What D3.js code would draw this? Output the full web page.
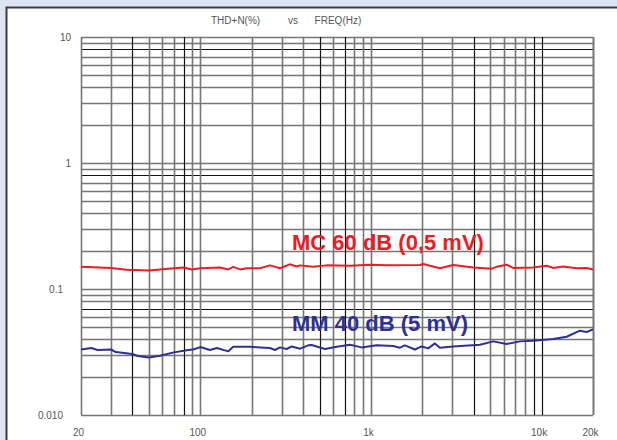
<!DOCTYPE html>
<html>
<head>
<meta charset="utf-8">
<script src="https://cdn.jsdelivr.net/npm/d3@7"></script>
<style>
  body { margin: 0; background: #dce6f2; }
  svg { display: block; }
  .tick text { font-family: "Liberation Sans Narrow", "Liberation Sans", sans-serif; font-size: 10px; fill: #555; }
</style>
</head>
<body>
<svg id="chart"></svg>
<script>
// THD+N vs frequency, two phono stage gains
const mcFreq = [20, 30, 37, 50, 70, 80, 89, 100, 130, 146, 156, 171, 187, 224, 256, 293, 335, 367, 384, 459,
  550, 753, 1000, 1235, 1936, 2025, 2536, 3034, 3974, 5094, 5448, 6236, 6817, 8928, 10698, 11696, 13380, 16032, 18352, 20000];
const mcThd = [0.150, 0.147, 0.142, 0.140, 0.146, 0.148, 0.143, 0.146, 0.148, 0.143, 0.150, 0.143, 0.146, 0.146, 0.154, 0.146, 0.157, 0.151, 0.154, 0.150,
  0.154, 0.153, 0.156, 0.154, 0.155, 0.158, 0.146, 0.155, 0.148, 0.145, 0.150, 0.156, 0.147, 0.148, 0.153, 0.147, 0.151, 0.146, 0.147, 0.143];

const mmFreq = [20, 23, 25, 30, 32, 40, 43, 50, 58, 70, 80, 85, 91, 100, 114, 125, 146, 156, 195, 224, 256, 274, 293, 321, 343, 384, 429, 449,
  538, 630, 753, 882, 1080, 1351, 1478, 1581, 1810, 1981, 2166, 2370, 2536, 3034, 4350, 5206, 6236, 7462, 8928, 11696, 14012, 16760, 18352, 20000];
const mmThd = [0.0331, 0.0340, 0.0328, 0.0331, 0.0316, 0.0305, 0.0294, 0.0286, 0.0295, 0.0314, 0.0324, 0.0328, 0.0331, 0.0346, 0.0328, 0.0340, 0.0320, 0.0348, 0.0348, 0.0344, 0.0340, 0.0328, 0.0344, 0.0334, 0.0350, 0.0336, 0.0357, 0.0359,
  0.0334, 0.0348, 0.0361, 0.0344, 0.0357, 0.0353, 0.0342, 0.0357, 0.0331, 0.0350, 0.0338, 0.0370, 0.0342, 0.0350, 0.0361, 0.0384, 0.0366, 0.0384, 0.0389, 0.0401, 0.0418, 0.0467, 0.0456, 0.0478];

const xTickValues = [20, 100, 1000, 10000, 20000];
const xTickLabels = ["20", "100", "1k", "10k", "20k"];
const yTickValues = [10, 1, 0.1, 0.01];
const yTickLabels = ["10", "1", "0.1", "0.010"];

const seriesNames = ["MC 60 dB (0,5 mV)", "MM 40 dB (5 mV)"];

const W = 617, H = 440;
const plot = { left: 81, right: 593, top: 37, bottom: 415 };

const svg = d3.select("#chart").attr("width", W).attr("height", H);

// white panel with dark edge on top/left
svg.append("rect").attr("x", 6).attr("y", 7).attr("width", W).attr("height", H)
  .attr("fill", "#fff");
svg.append("path").attr("d", `M6.5,${H} V7.5 H${W}`)
  .attr("fill", "none").attr("stroke", "#3a3a48").attr("stroke-width", 2);

const x = d3.scaleLog().domain([20, 20000]).range([plot.left, plot.right]);
const y = d3.scaleLog().domain([0.01, 10]).range([plot.bottom, plot.top]);

// grid values
let vGrid = [];
[10, 100, 1000, 10000].forEach(d => {
  for (let m = 1; m <= 9; m++) {
    const f = d * m;
    if (f >= 20 && f <= 20000) vGrid.push(f);
  }
});
vGrid.push(20000);
let hGrid = [];
[0.01, 0.1, 1].forEach(d => {
  for (let m = 1; m <= 9; m++) hGrid.push(+(d * m).toPrecision(3));
});
hGrid.push(10);

const blackV = [40, 80, 500, 700, 4000, 9000, 10000];
const blackH = [8, 0.8, 0.07];

const grid = svg.append("g");
grid.selectAll("line.h").data(hGrid).enter().append("line")
  .attr("x1", plot.left).attr("x2", plot.right)
  .attr("y1", d => Math.round(y(d)) + 0.5).attr("y2", d => Math.round(y(d)) + 0.5)
  .attr("stroke", d => blackH.includes(d) ? "#111" : "#767676")
  .attr("stroke-width", d => blackH.includes(d) ? 1.2 : 1.6);
grid.selectAll("line.v").data(vGrid).enter().append("line")
  .attr("y1", plot.top).attr("y2", plot.bottom)
  .attr("x1", d => Math.round(x(d)) + 0.5).attr("x2", d => Math.round(x(d)) + 0.5)
  .attr("stroke", d => blackV.includes(d) ? "#111" : "#767676")
  .attr("stroke-width", d => blackV.includes(d) ? 1.2 : 1.6);

// axes labels
const yAxis = d3.axisLeft(y).tickValues(yTickValues)
  .tickFormat((d, i) => yTickLabels[i]).tickSize(0).tickPadding(10);
const gy = svg.append("g").attr("transform", `translate(${plot.left},0)`).call(yAxis);
gy.select(".domain").remove();
gy.selectAll(".tick text").attr("dx", (d, i) => i >= 2 ? -8 : 0);

const xAxis = d3.axisBottom(x).tickValues(xTickValues)
  .tickFormat((d, i) => xTickLabels[i]).tickSize(0).tickPadding(14);
const gx = svg.append("g").attr("transform", `translate(-3,${plot.bottom})`).call(xAxis);
gx.select(".domain").remove();

// title
svg.append("text").attr("x", 211).attr("y", 24)
  .attr("font-family", "Liberation Sans Narrow, Liberation Sans, sans-serif")
  .attr("font-size", 10).attr("fill", "#555")
  .attr("xml:space", "preserve")
  .text("THD+N(%)          vs      FREQ(Hz)");

// data lines
const line = d3.line().x(d => x(d[0])).y(d => y(d[1]));
const series = [
  { f: mcFreq, v: mcThd, color: "#ed1c24" },
  { f: mmFreq, v: mmThd, color: "#2e3192" }
];
series.forEach(s => {
  svg.append("path")
    .datum(s.f.map((f, i) => [f, s.v[i]]))
    .attr("d", line)
    .attr("fill", "none")
    .attr("stroke", s.color)
    .attr("stroke-width", 2)
    .attr("stroke-linejoin", "round");
});

// series labels
svg.append("text").attr("x", 292).attr("y", 250)
  .attr("font-family", "Liberation Sans, Arial, sans-serif").attr("font-weight", "bold")
  .attr("font-size", 22).attr("fill", "#ed1c24").text(seriesNames[0]);
svg.append("text").attr("x", 292).attr("y", 331)
  .attr("font-family", "Liberation Sans, Arial, sans-serif").attr("font-weight", "bold")
  .attr("font-size", 22).attr("fill", "#2e3192").text(seriesNames[1]);
</script>
</body>
</html>
